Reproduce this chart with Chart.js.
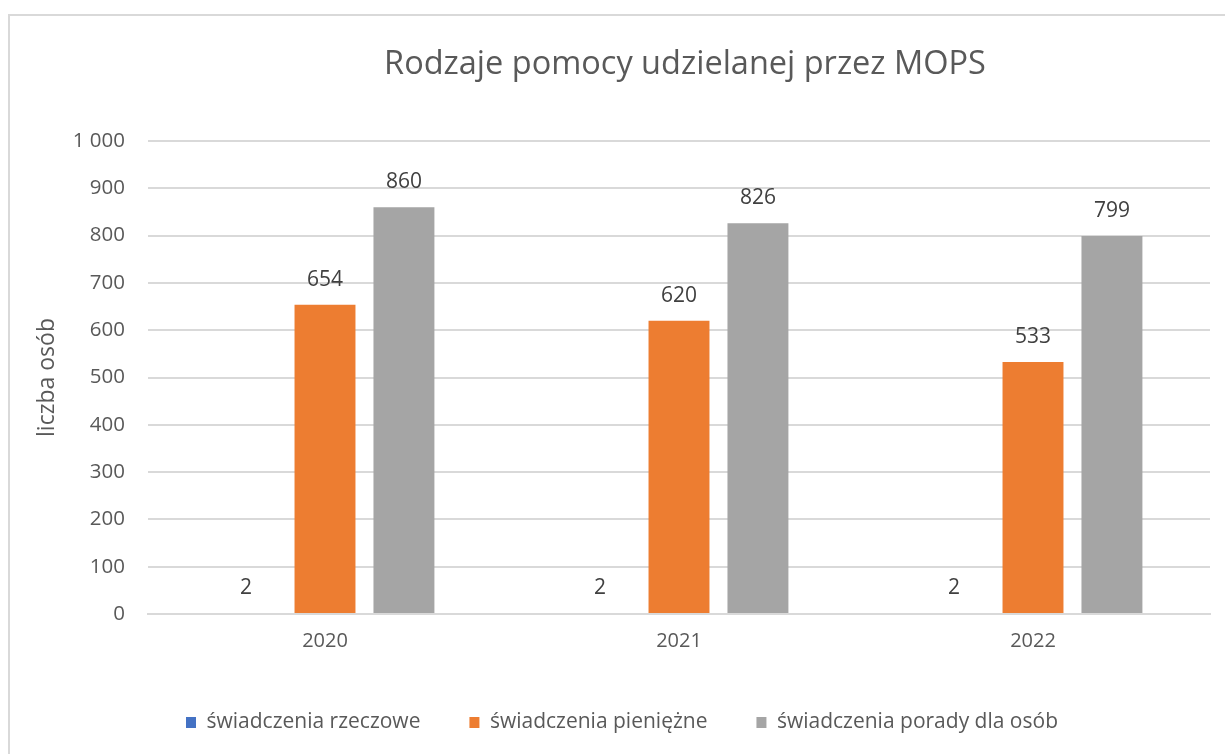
<!DOCTYPE html>
<html><head><meta charset="utf-8">
<script src="https://cdn.jsdelivr.net/npm/chart.js@4.4.1/dist/chart.umd.min.js"></script>
<style>
html,body{margin:0;padding:0;background:#fff;overflow:hidden;}
#frame{position:absolute;left:8px;top:14px;width:1300px;height:800px;border:2px solid #d9d9d9;box-sizing:border-box;}
#c{position:absolute;left:0;top:0;}
</style></head><body>
<div id="frame"></div>
<canvas id="c" width="1225" height="754"></canvas>
<script>
const categories = ['2020', '2021', '2022'];
const seriesNames = ['świadczenia rzeczowe', 'świadczenia pieniężne', 'świadczenia porady dla osób'];
const rzeczowe = [2, 2, 2];
const pieniezne = [654, 620, 533];
const porady = [860, 826, 799];
const yMin = 0, yMax = 1000, yStep = 100;
const chartTitle = 'Rodzaje pomocy udzielanej przez MOPS';
const yTitle = 'liczba osób';

const FONT = '"Open Sans", "Noto Sans", sans-serif';
const TXT = '#595959';

function fmt(v){ return String(v).replace(/\B(?=(\d{3})+(?!\d))/g, ' '); }

const valueLabels = {
  id: 'valueLabels',
  afterDatasetsDraw(chart){
    const ctx = chart.ctx;
    ctx.save();
    ctx.font = '21px ' + FONT;
    ctx.fillStyle = '#404040';
    ctx.textAlign = 'center';
    ctx.textBaseline = 'middle';
    chart.data.datasets.forEach((ds, i) => {
      const meta = chart.getDatasetMeta(i);
      meta.data.forEach((el, j) => {
        ctx.fillText(fmt(ds.data[j]), el.x, el.y - 25);
      });
    });
    ctx.restore();
  }
};

const titlePlugin = {
  id: 'titlePlugin',
  afterDraw(chart){
    const ctx = chart.ctx;
    ctx.save();
    ctx.font = '32.5px ' + FONT;
    ctx.fillStyle = TXT;
    ctx.textAlign = 'center';
    ctx.textBaseline = 'middle';
    ctx.fillText(chartTitle, 685, 65);
    ctx.restore();
  }
};

new Chart(document.getElementById('c'), {
  type: 'bar',
  data: {
    labels: categories,
    datasets: [
      { label: seriesNames[0], data: rzeczowe, backgroundColor: '#4472C4' },
      { label: seriesNames[1], data: pieniezne, backgroundColor: '#ED7D31' },
      { label: seriesNames[2], data: porady, backgroundColor: '#A5A5A5' }
    ]
  },
  options: {
    responsive: false,
    animation: false,
    devicePixelRatio: 1,
    categoryPercentage: 0.669,
    barPercentage: 0.772,
    layout: { padding: { left: 34, right: 15, top: 141, bottom: 11 } },
    plugins: {
      title: { display: false },
      legend: {
        position: 'bottom',
        labels: {
          color: TXT, boxWidth: 10, boxHeight: 11, padding: 49,
          font: { family: FONT, size: 21 }
        }
      },
      tooltip: { enabled: false }
    },
    scales: {
      x: {
        grid: { display: false, drawTicks: false },
        border: { display: true, color: '#d9d9d9', width: 2 },
        ticks: { color: TXT, font: { family: FONT, size: 20 }, padding: 15 },
        afterFit(s){ s.height = 49; }
      },
      y: {
        min: yMin, max: yMax,
        grid: { color: '#d9d9d9', lineWidth: 2, drawTicks: false },
        border: { display: false },
        ticks: { stepSize: yStep, color: TXT, font: { family: FONT, size: 20.5 }, padding: 23, callback: v => fmt(v) },
        title: { display: true, text: yTitle, color: TXT, font: { family: FONT, size: 23 }, padding: 0 },
        afterFit(s){ s.width = 114; }
      }
    }
  },
  plugins: [valueLabels, titlePlugin]
});
</script>
</body></html>
